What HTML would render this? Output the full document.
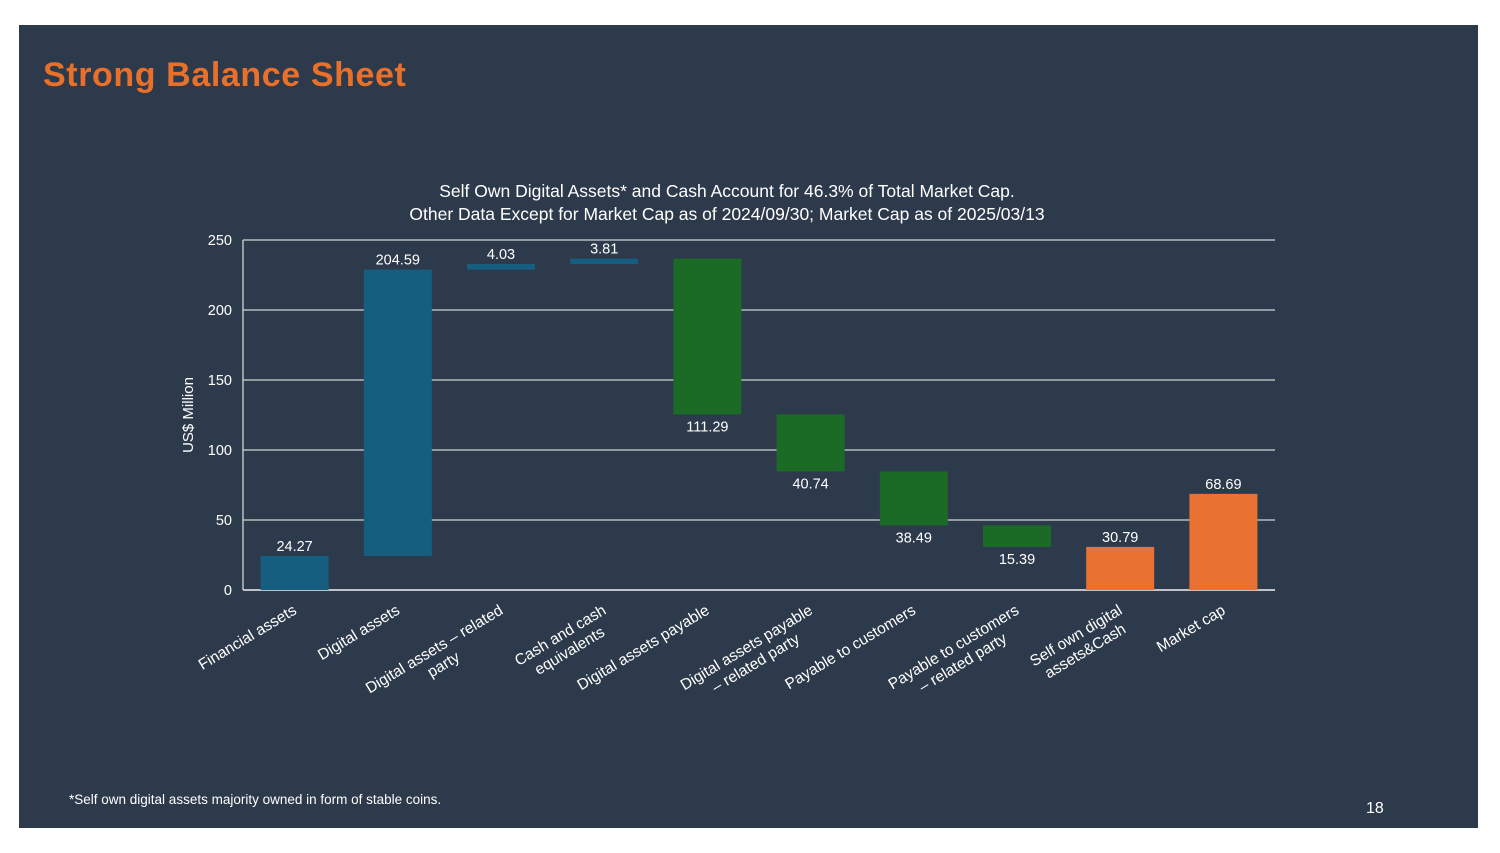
<!DOCTYPE html>
<html><head><meta charset="utf-8"><style>
body{margin:0;width:1500px;height:853px;background:#fff;overflow:hidden;font-family:"Liberation Sans",sans-serif}
#panel{position:absolute;left:19px;top:25px;width:1459px;height:803px;background:#2d3a4b}
#title{position:absolute;left:24px;top:31px;font-size:34px;letter-spacing:0.6px;font-weight:bold;color:#e8702a}
#foot{position:absolute;left:50px;top:767px;font-size:13.5px;color:#fff}
#pg{position:absolute;left:1347px;top:775px;font-size:16px;color:#fff}
svg{position:absolute;left:0;top:0}
</style></head><body>
<div id="panel">
<div id="title">Strong Balance Sheet</div>
<div id="foot">*Self own digital assets majority owned in form of stable coins.</div>
<div id="pg">18</div>
</div>
<svg id="chart" width="1500" height="853" font-family="Liberation Sans, sans-serif">
<text x="727" y="197" fill="#fff" font-size="17.5" text-anchor="middle">Self Own Digital Assets* and Cash  Account for 46.3% of Total Market Cap.</text>
<text x="727" y="220" fill="#fff" font-size="17.5" text-anchor="middle">Other Data Except for Market Cap as of 2024/09/30; Market Cap as of 2025/03/13</text>
<text transform="translate(193,415) rotate(-90)" fill="#fff" font-size="15" text-anchor="middle">US$ Million</text>
</svg>
<script>
const categories=[["Financial assets"],["Digital assets"],["Digital assets – related","party"],["Cash and cash","equivalents"],["Digital assets payable"],["Digital assets payable","– related party"],["Payable to customers"],["Payable to customers","– related party"],["Self own digital","assets&Cash"],["Market cap"]];
const values=[24.27,204.59,4.03,3.81,-111.29,-40.74,-38.49,-15.39,30.79,68.69];
const kinds=["inc","inc","inc","inc","dec","dec","dec","dec","total","total"];
const ticks=[0,50,100,150,200,250];
const svg=document.getElementById('chart');const NS='http://www.w3.org/2000/svg';
const X0=243,X1=1275,Y0=590,Y1=240,YMAX=250;
const y=v=>Y0-(v/YMAX)*(Y0-Y1);
const band=(X1-X0)/categories.length;
const cx=i=>X0+band*(i+0.5);
const colors={inc:"#165e80",dec:"#1b6b26",total:"#e97132"};
function mk(t,a){const e=document.createElementNS(NS,t);for(const k in a)e.setAttribute(k,a[k]);svg.appendChild(e);return e;}
ticks.forEach(t=>{
 const l=mk('line',{x1:X0,x2:X1,y1:y(t),y2:y(t),stroke:t==0?'#bfc3c8':'#d0d3d6','stroke-width':t==0?2:1.3});
 
 
 const tx=mk('text',{x:232,y:y(t)+5,fill:'#fff','font-size':14.5,'text-anchor':'end'});tx.textContent=t;
 
 
});
const ax=mk('line',{x1:X0,x2:X0,y1:Y1,y2:Y0,stroke:'#d0d3d6','stroke-width':1.3});


let run=0;
values.forEach((v,i)=>{
 let lo,hi;
 if(kinds[i]=="total"){lo=0;hi=v;run=v;}else{const s=run;run=s+v;lo=Math.min(s,run);hi=Math.max(s,run);}
 const w=68;
 const r=mk('rect',{x:cx(i)-w/2,y:y(hi),width:w,height:Math.max(y(lo)-y(hi),3),fill:colors[kinds[i]]});
 
 
 const lt=mk('text',{x:cx(i),y:v<0?y(lo)+17:y(hi)-5,fill:'#fff','font-size':14.5,'text-anchor':'middle'});
 lt.textContent=Math.abs(v).toFixed(2);
 
 
 const g=document.createElementNS(NS,'g');svg.appendChild(g);
 g.setAttribute('transform',`translate(${cx(i)+3},613) rotate(-31)`);
 
 
 const lines=categories[i];const t1=document.createElementNS(NS,'text');
 t1.setAttribute('fill','#fff');t1.setAttribute('font-size','15.5');t1.setAttribute('text-anchor','end');t1.setAttribute('x',0);t1.setAttribute('y',0);
 t1.textContent=lines[0];g.appendChild(t1);
 if(lines[1]){const L=t1.getComputedTextLength();const t2=document.createElementNS(NS,'text');
  t2.setAttribute('fill','#fff');t2.setAttribute('font-size','15.5');t2.setAttribute('text-anchor','middle');t2.setAttribute('x',-L/2);t2.setAttribute('y',18);
  t2.textContent=lines[1];g.appendChild(t2);}
});
</script>
</body></html>
